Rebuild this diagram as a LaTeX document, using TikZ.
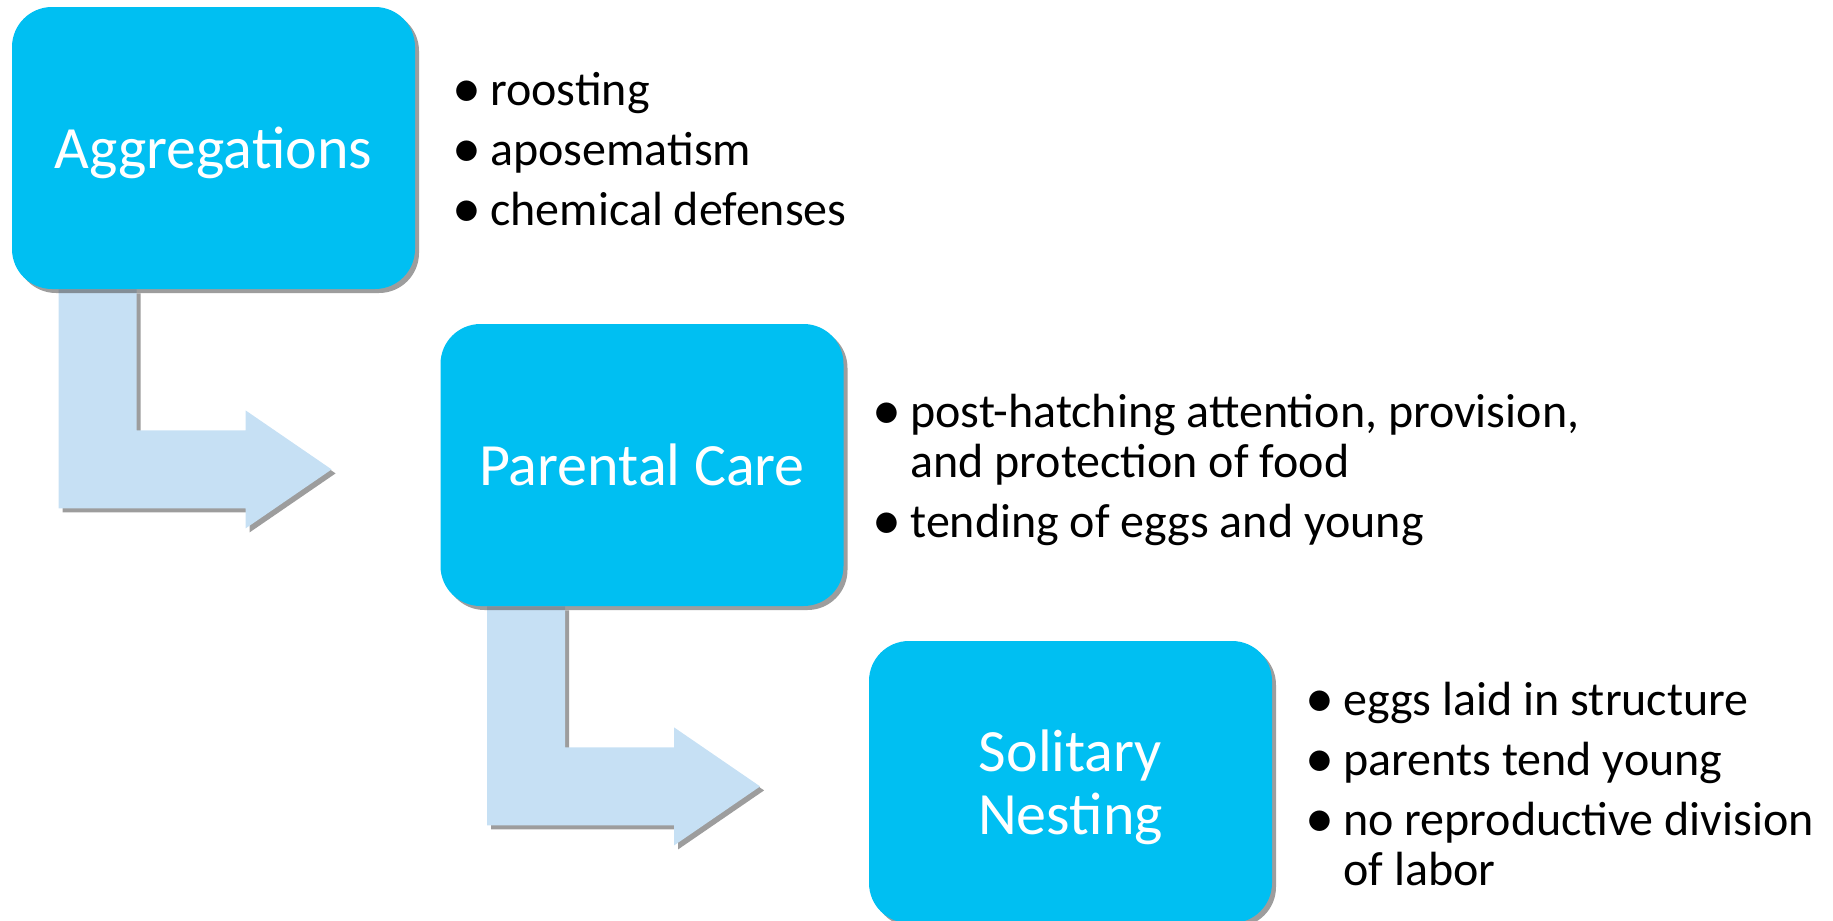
\documentclass[tikz,border=0pt]{standalone}
\usepackage{fontspec}
\setmainfont{Carlito}
\usepackage{tikz}
\usetikzlibrary{shadows, backgrounds}
\definecolor{stagecyan}{RGB}{0,191,242}
\definecolor{flowblue}{RGB}{198,224,244}
\tikzstyle{stage}=[fill=stagecyan,rounded corners=20pt,minimum width=201.5pt,minimum height=141pt,
  text=white,align=center,text depth=0pt,font=\fontsize{30}{31.5}\selectfont,
  drop shadow={shadow xshift=2pt,shadow yshift=-2pt,fill=black!70,opacity=.55}]
\tikzstyle{points}=[anchor=base west,inner sep=0pt,align=left,font=\fontsize{24}{25}\selectfont]
\tikzstyle{flow}=[fill=flowblue,drop shadow={shadow xshift=2pt,shadow yshift=-2pt,fill=black!70,opacity=.55}]
\newcommand{\bulletmark}{\makebox[17.5pt][l]{\hspace{2.5pt}\makebox[6.5pt][c]{\raisebox{-1pt}{\fontsize{29}{25}\selectfont\textbullet}}}}
\newcommand{\indentmark}{\hspace*{17.5pt}}

\begin{document}
\begin{tikzpicture}[x=0.5pt,y=-0.5pt]
  \useasboundingbox (0,0) rectangle (1833,921);
  \node[stage] (agg) at (213.5,148) {Aggregations};
  \node[stage] (care) at (642,465) {Parental Care};
  \node[stage] (nest) at (1070.5,782) {Solitary\\Nesting};
  % lists sit on the baseline of their last line
  \node[points] (aggpts) at (455,225) {\bulletmark roosting\\[5pt]
    \bulletmark aposematism\\[5pt] \bulletmark chemical defenses};
  \node[points] (carepts) at (875,537) {\bulletmark post-hatching attention, provision,\\
    \indentmark and protection of food\\[5pt] \bulletmark tending of eggs and young};
  \node[points] (nestpts) at (1308,885) {\bulletmark eggs laid in structure\\[5pt]
    \bulletmark parents tend young\\[5pt] \bulletmark no reproductive division\\
    \indentmark of labor};
  % bent arrows from the bottom of one stage to the next
  \foreach \src in {agg,care} {
    \begin{scope}[on background layer,shift={(\src.south west)}]
      \path[flow] (47,0) -- (125,0) -- (125,141) -- (234,141) -- (234,121) -- (320,180)
        -- (234,239) -- (234,219) -- (47,219) -- cycle;
    \end{scope}
  }
\end{tikzpicture}
\end{document}
